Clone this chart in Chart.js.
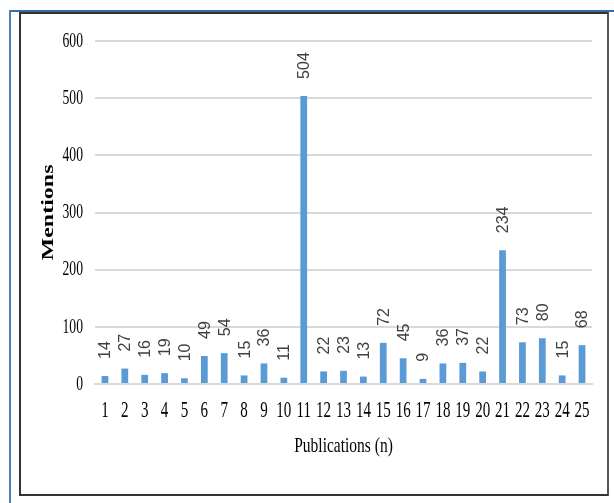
<!DOCTYPE html>
<html>
<head>
<meta charset="utf-8">
<script src="https://cdn.jsdelivr.net/npm/chart.js@4.4.1/dist/chart.umd.min.js"></script>
<style>
  html, body { margin: 0; padding: 0; background: #fff; }
  #wrap { position: relative; width: 614px; height: 503px; overflow: hidden; }
  #blueTop { position: absolute; left: 10px; top: 10px; width: 604px; height: 2px; background: #2f6ea8; }
  #blueLeft { position: absolute; left: 9px; top: 10px; width: 2px; height: 493px; background: #4a7fb5; }
  #box { position: absolute; left: 19px; top: 12px; width: 586px; height: 480px; border: 2px solid #333; border-right-color: #555; }
  canvas { position: absolute; left: 0; top: 0; }
</style>
</head>
<body>
<div id="wrap">
  <div id="blueTop"></div>
  <div id="blueLeft"></div>
  <div id="box"></div>
  <canvas id="c" width="614" height="503"></canvas>
</div>
<script>
const publications = ['1','2','3','4','5','6','7','8','9','10','11','12','13','14','15','16','17','18','19','20','21','22','23','24','25'];
const mentions = [14, 27, 16, 19, 10, 49, 54, 15, 36, 11, 504, 22, 23, 13, 72, 45, 9, 36, 37, 22, 234, 73, 80, 15, 68];
const yTicks = [0, 100, 200, 300, 400, 500, 600];

const SERIF = '"Liberation Serif", "Times New Roman", serif';

// Rotated value labels above each bar
const valueLabels = {
  id: 'valueLabels',
  afterDatasetsDraw(chart) {
    const ctx = chart.ctx;
    const meta = chart.getDatasetMeta(0);
    const data = chart.data.datasets[0].data;
    ctx.save();
    ctx.font = '16px "Liberation Sans", Arial, sans-serif';
    ctx.fillStyle = '#404040';
    ctx.textAlign = 'left';
    ctx.textBaseline = 'middle';
    meta.data.forEach((bar, i) => {
      ctx.save();
      ctx.translate(bar.x + 1, bar.y - 17);
      ctx.rotate(-Math.PI / 2);
      ctx.fillText(String(data[i]), 0, 0);
      ctx.restore();
    });
    ctx.restore();
  }
};

// Narrow, tall serif lettering for the axis text: wrap a scale's own
// drawing method in a canvas transform anchored on the text line.
function wrapDraw(scale, name, apply) {
  const key = '_plain_' + name;
  if (scale[key]) return;
  const plain = scale[name];
  scale[key] = plain;
  scale[name] = function (...args) {
    const ctx = this.ctx;
    ctx.save();
    apply(ctx, this);
    plain.apply(this, args);
    ctx.restore();
  };
}
function stretchY(ctx, y0, k) { ctx.translate(0, y0); ctx.scale(1, k); ctx.translate(0, -y0); }
function squeezeX(ctx, x0, k) { ctx.translate(x0, 0); ctx.scale(k, 1); ctx.translate(-x0, 0); }

const narrowText = {
  id: 'narrowText',
  afterLayout(chart) {
    const x = chart.scales.x, y = chart.scales.y;
    wrapDraw(x, 'drawLabels', (ctx, s) => stretchY(ctx, s.top + s.options.ticks.padding, 1.5));
    wrapDraw(x, 'drawTitle', (ctx, s) => {
      const t = s.options.title;
      const lh = t.font.size * 1.2;
      stretchY(ctx, s.bottom - t.padding.bottom - lh / 2, 1.4);
    });
    wrapDraw(y, 'drawLabels', (ctx, s) => squeezeX(ctx, s.right - s.options.ticks.padding, 0.62));
    wrapDraw(y, 'drawTitle', (ctx, s) => {
      const t = s.options.title;
      const lh = t.font.size * 1.2;
      squeezeX(ctx, s.left + lh / 2, 0.7);
    });
  }
};

new Chart(document.getElementById('c'), {
  type: 'bar',
  data: {
    labels: publications,
    datasets: [{
      data: mentions,
      backgroundColor: '#5b9bd5',
      borderWidth: 0,
      barPercentage: 0.34,
      categoryPercentage: 1
    }]
  },
  options: {
    responsive: false,
    animation: false,
    layout: { padding: { top: 41, left: 34, right: 22, bottom: 20 } },
    plugins: { legend: { display: false }, tooltip: { enabled: false } },
    scales: {
      x: {
        grid: { display: false, drawTicks: false },
        border: { display: true, color: '#d9d9d9', width: 2 },
        ticks: {
          color: '#000',
          font: { family: SERIF, size: 15 },
          padding: 14,
          maxRotation: 0,
          autoSkip: false
        },
        title: {
          display: true,
          text: 'Publications (n)',
          color: '#000',
          font: { family: SERIF, size: 15.5 },
          padding: { top: 0, bottom: 27 }
        },
        afterFit(s) { s.height = 99; }
      },
      y: {
        min: 0,
        max: 600,
        afterBuildTicks(s) { s.ticks = yTicks.map(v => ({ value: v })); },
        grid: { color: '#d9d9d9', lineWidth: 2, drawTicks: false },
        border: { display: false },
        ticks: {
          color: '#000',
          font: { family: SERIF, size: 22 },
          padding: 12
        },
        title: {
          display: true,
          text: 'Mentions',
          color: '#000',
          font: { family: SERIF, size: 24, weight: 'bold' },
          padding: 0
        },
        afterFit(s) { s.width = 61; }
      }
    }
  },
  plugins: [valueLabels, narrowText]
});
</script>
</body>
</html>
